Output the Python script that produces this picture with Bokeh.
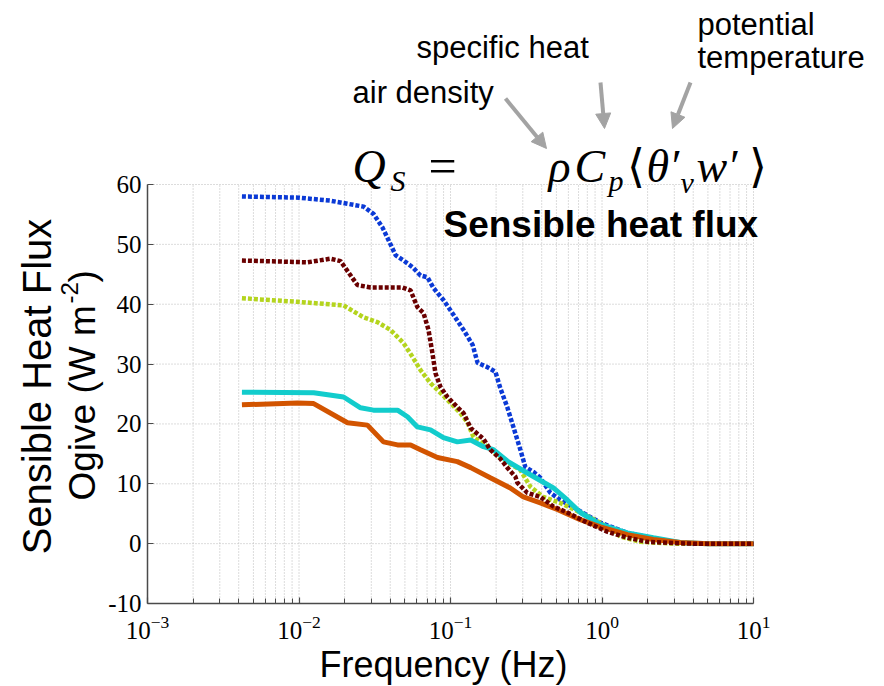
import math
from bokeh.plotting import figure
from bokeh.models import (Range1d, FixedTicker, Label, Arrow, NormalHead, LinearAxis,
                          LogAxis, PrintfTickFormatter)
from bokeh.embed import file_html
from bokeh.resources import INLINE

# ---------------- data ----------------
freq_blue = [0.0042, 0.0100, 0.0161, 0.0267, 0.0310, 0.0356, 0.0390, 0.0434, 0.0490, 0.0561,
             0.0634, 0.0705, 0.0772, 0.0898, 0.103, 0.122, 0.140, 0.151, 0.175, 0.198,
             0.213, 0.237, 0.260, 0.289, 0.312, 0.352, 0.392, 0.456, 0.531, 0.687,
             0.975, 1.47, 2.08, 2.95, 4.0, 10.0]
flux_blue = [58.0, 57.8, 57.3, 56.3, 55.1, 52.8, 50.7, 48.2, 47.3, 46.2,
             44.8, 44.5, 42.7, 40.7, 38.5, 35.7, 33.2, 30.2, 29.5, 28.7,
             26.0, 22.8, 19.5, 15.7, 12.8, 12.0, 11.0, 8.5, 7.3, 5.7,
             3.5, 1.8, 1.0, 0.3, 0.0, 0.0]

freq_maroon = [0.0042, 0.0114, 0.0161, 0.0188, 0.0243, 0.0297, 0.0482, 0.0545, 0.0605, 0.0664,
               0.0716, 0.0760, 0.0795, 0.0858, 0.0955, 0.111, 0.122, 0.136, 0.165, 0.183,
               0.213, 0.237, 0.268, 0.276, 0.321, 0.392, 0.478, 0.590, 0.800, 1.08,
               1.47, 1.99, 2.95, 4.0, 10.0]
flux_maroon = [47.3, 47.0, 47.6, 47.2, 43.2, 42.8, 42.8, 42.3, 39.5, 38.5,
               35.7, 31.8, 28.5, 26.2, 24.5, 22.8, 21.8, 19.3, 17.5, 15.7,
               14.2, 12.7, 11.2, 10.2, 8.5, 7.8, 6.2, 5.2, 3.5, 2.0,
               1.0, 0.3, 0.1, 0.0, 0.0]

freq_lime = [0.0042, 0.0098, 0.0197, 0.0267, 0.0330, 0.0402, 0.0490, 0.0561, 0.0634, 0.0738,
             0.0858, 0.100, 0.116, 0.129, 0.142, 0.175, 0.213, 0.289, 0.337, 0.410,
             0.531, 0.719, 0.975, 1.32, 1.79, 3.0, 10.0]
flux_lime = [41.0, 40.4, 39.8, 37.8, 37.0, 35.7, 33.5, 31.2, 29.0, 26.8,
             25.2, 23.5, 21.8, 20.3, 17.8, 16.2, 14.3, 12.3, 9.5, 7.8,
             6.8, 5.2, 3.5, 1.2, 0.3, 0.0, 0.0]

freq_cyan = [0.0042, 0.0125, 0.0197, 0.0255, 0.0310, 0.0447, 0.0520, 0.0605, 0.0738, 0.0898,
             0.111, 0.136, 0.165, 0.192, 0.237, 0.321, 0.478, 0.590, 0.719, 0.975,
             1.47, 2.18, 3.28, 5.0, 10.0]
flux_cyan = [25.3, 25.2, 24.5, 22.7, 22.3, 22.3, 21.2, 19.5, 19.0, 17.7,
             17.0, 17.3, 16.2, 15.7, 13.8, 11.8, 9.3, 7.3, 5.2, 3.2,
             1.8, 1.0, 0.2, 0.0, 0.0]

freq_orange = [0.0042, 0.0098, 0.0125, 0.0209, 0.0283, 0.0361, 0.0447, 0.0545, 0.0634, 0.0820,
               0.111, 0.136, 0.183, 0.248, 0.303, 0.392, 0.507, 0.719, 0.975, 1.47,
               2.18, 3.28, 5.0, 10.0]
flux_orange = [23.2, 23.5, 23.4, 20.2, 19.8, 17.0, 16.5, 16.5, 15.7, 14.4,
               13.7, 12.7, 11.0, 9.3, 7.8, 6.8, 5.7, 4.0, 2.8, 1.5,
               0.7, 0.2, 0.0, 0.0]

x_major_ticks = [1e-3, 1e-2, 1e-1, 1e0, 1e1]
y_ticks = [-10, 0, 10, 20, 30, 40, 50, 60]

# ---------------- geometry ----------------
W, H = 884, 686
AX_L, AX_R, AX_T, AX_B = 147, 753, 184, 603   # axes box in canvas pixels
x_lo, x_hi, y_lo, y_hi = 1e-3, 10.0, -10.0, 60.0
dec_px = (AX_R - AX_L) / math.log10(x_hi / x_lo)
x_start = 10 ** (math.log10(x_lo) - AX_L / dec_px)
x_end = 10 ** (math.log10(x_hi) + (W - AX_R) / dec_px)
ypp = (AX_B - AX_T) / (y_hi - y_lo)
y_end = y_hi + AX_T / ypp
y_start = y_lo - (H - AX_B) / ypp

p = figure(width=W, height=H, x_axis_type="log",
           x_range=Range1d(x_start, x_end), y_range=Range1d(y_start, y_end),
           x_axis_location=None, y_axis_location=None,
           output_backend="svg", toolbar_location=None, min_border=0)
p.outline_line_color = None
p.background_fill_color = "white"
p.border_fill_color = "white"
p.xgrid.visible = False
p.ygrid.visible = False

# ---------------- grid (dotted, only inside the axes box) ----------------
grid_col = "#b8b8b8"
minor = [m * d for d in x_major_ticks[:-1] for m in range(2, 10)]
xg = [t for t in x_major_ticks + minor if t > x_lo]
p.segment(x0=xg, y0=[y_lo] * len(xg), x1=xg, y1=[y_hi] * len(xg),
          line_color=grid_col, line_width=1, line_dash="1 2")
yg = [t for t in y_ticks if t > y_lo]
p.segment(x0=[x_lo] * len(yg), y0=yg, x1=[x_hi] * len(yg), y1=yg,
          line_color=grid_col, line_width=1, line_dash="1 2")

# ---------------- axes ----------------
axis_col = "#4a4a4a"
xax = LogAxis(fixed_location=y_lo, bounds=(x_lo, x_hi),
              ticker=FixedTicker(ticks=x_major_ticks, minor_ticks=minor))
yax = LinearAxis(fixed_location=x_lo, bounds=(y_lo, y_hi),
                 ticker=FixedTicker(ticks=y_ticks),
                 formatter=PrintfTickFormatter(format="%d"))
for ax in (xax, yax):
    ax.axis_line_color = axis_col
    ax.axis_line_width = 1.5
    ax.major_tick_line_color = axis_col
    ax.major_tick_line_width = 1.2
    ax.major_tick_in = 6
    ax.major_tick_out = 0
    ax.minor_tick_line_color = axis_col
    ax.minor_tick_in = 5
    ax.minor_tick_out = 0
    ax.major_label_text_font = "Liberation Serif"
    ax.major_label_text_font_size = "25px"
    ax.major_label_text_color = "black"
yax.minor_tick_line_color = None
xax.major_label_standoff = 12
yax.major_label_standoff = 6
p.add_layout(xax, "below")
p.add_layout(yax, "left")

# ---------------- series ----------------
p.line(freq_blue, flux_blue, line_color="#0b3ad6", line_width=4.5, line_dash="4 2")
p.line(freq_lime, flux_lime, line_color="#b4d41e", line_width=4.5, line_dash="4 2")
p.line(freq_cyan, flux_cyan, line_color="#12cccc", line_width=5)
p.line(freq_orange, flux_orange, line_color="#d25400", line_width=5)
p.line(freq_maroon, flux_maroon, line_color="#6a0000", line_width=4.5, line_dash="4 2")


# ---------------- texts ----------------
def lab(text, px, py, size, font="Liberation Sans", style="normal", align="left",
        angle=0, color="black"):
    # py is the wanted visible baseline; horizontal labels are lifted to compensate
    # for the text-box padding below the baseline
    lift = 0.36 * size if angle == 0 else 0
    p.add_layout(Label(x=px, y=H - py + lift, x_units="screen", y_units="screen",
                       text=text, text_font=font, text_font_size=f"{size}px",
                       text_font_style=style, text_align=align,
                       text_baseline="alphabetic", angle=angle, text_color=color))


lab("Sensible heat flux", 443, 237, 37, style="bold")
lab("Frequency (Hz)", 443, 677, 36, align="center")

# y axis label (two rotated lines)
ang = math.pi / 2
lab("Sensible Heat Flux", 36, 386, 40, align="center", angle=ang)
lab("Ogive (W m", 82, 500, 37, angle=ang)
lab("-2", 69, 303, 24, angle=ang)
lab(")", 82, 282, 37, angle=ang)

# equation
ser = "Liberation Serif"
lab("Q", 352, 183, 46, font=ser, style="italic")
lab("S", 390, 191, 30, font=ser, style="italic")
lab("=", 428, 183, 50, font=ser)
lab("ρ", 548, 183, 46, font=ser, style="italic")
lab("C", 574, 183, 46, font=ser, style="italic")
lab("p", 608, 191, 30, font=ser, style="italic")
lab("⟨", 626, 183, 46, font=ser)
lab("θ′", 646, 183, 46, font=ser, style="italic")
lab("v", 680, 193, 30, font=ser, style="italic")
lab("w′", 696, 183, 46, font=ser, style="italic")
lab("⟩", 748, 183, 46, font=ser)

# annotation words
lab("potential", 697, 35, 31)
lab("temperature", 697, 68, 31)
lab("specific heat", 416, 58, 31)
lab("air density", 352, 103, 31)

arrow_col = "#a3a3a3"
for (x0, y0, x1, y1) in [(505, 98, 546, 148), (600, 82, 604, 128), (690, 82, 672, 128)]:
    p.add_layout(Arrow(end=NormalHead(size=15, fill_color=arrow_col, line_color=arrow_col),
                       x_start=x0, y_start=H - y0, x_end=x1, y_end=H - y1,
                       start_units="screen", end_units="screen",
                       line_color=arrow_col, line_width=4))

open("out.html", "w").write(file_html(p, INLINE))
